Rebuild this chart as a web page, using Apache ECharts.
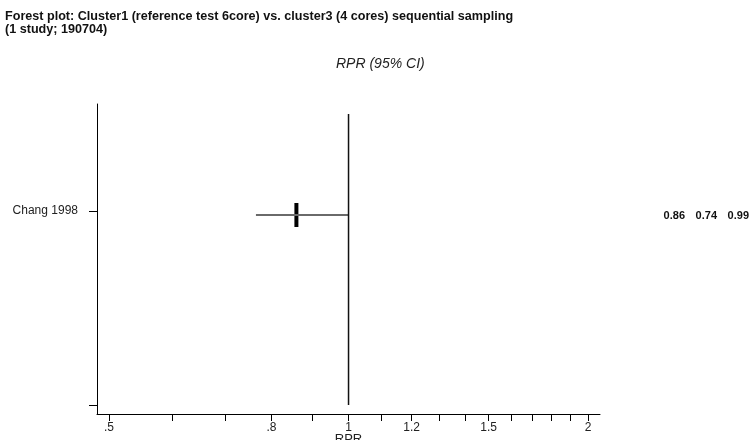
<!DOCTYPE html>
<html>
<head>
<meta charset="utf-8">
<script src="https://cdn.jsdelivr.net/npm/echarts@6/dist/echarts.min.js"></script>
<style>html,body{margin:0;padding:0;background:#fff}#c{width:750px;height:440px}</style>
</head>
<body>
<div id="c"></div>
<script>
// ---- data ----
var studies = ['Chang 1998'];
var estimates = [0.86];
var ciLow = [0.765];   // drawn position of lower CI
var ciHigh = [1.0];    // drawn position of upper CI
var estText = ['0.86'];
var lowText = ['0.74'];
var highText = ['0.99'];
var xTicks = [0.5, 0.6, 0.7, 0.8, 0.9, 1, 1.1, 1.2, 1.3, 1.4, 1.5, 1.6, 1.7, 1.8, 1.9, 2];
var xLabelVals = [0.5, 0.8, 1, 1.2, 1.5, 2];
var xLabelText = ['.5', '.8', '1', '1.2', '1.5', '2'];
var titleLines = ['Forest plot: Cluster1 (reference test 6core) vs. cluster3 (4 cores) sequential sampling', '(1 study; 190704)'];
var subTitle = 'RPR (95% CI)';
var xName = 'RPR';

var FONT = 'Liberation Sans, Arial, sans-serif';
var chart = echarts.init(document.getElementById('c'), null, {renderer: 'canvas'});

var rowY = studies.map(function (s, i) { return studies.length - i; });
var series = [];
studies.forEach(function (s, i) {
  series.push({
    type: 'line', silent: true, symbol: 'none', animation: false,
    lineStyle: {color: '#6a6a6a', width: 2},
    data: [[ciLow[i], rowY[i]], [ciHigh[i], rowY[i]]]
  });
});
series.push({
  type: 'scatter', animation: false, symbol: 'rect', symbolSize: [4, 24],
  itemStyle: {color: '#000', opacity: 1},
  data: estimates.map(function (v, i) { return [v, rowY[i]]; })
});
series.push({
  type: 'line', silent: true, symbol: 'none', animation: false,
  lineStyle: {color: '#111', width: 1.5},
  data: [[1, 0], [1, 1.532]]
});

var graphics = [];
titleLines.forEach(function (t, i) {
  graphics.push({type: 'text', left: 5, top: 10 + i * 13,
    style: {text: t, font: 'bold 12.6px ' + FONT, fill: '#111'}});
});
graphics.push({type: 'text', left: 336, top: 57,
  style: {text: subTitle, font: 'italic 14px ' + FONT, fill: '#222'}});

var rightCols = [685, 717, 749];
studies.forEach(function (s, i) {
  [estText[i], lowText[i], highText[i]].forEach(function (t, j) {
    graphics.push({type: 'text', x: rightCols[j], y: 216,
      style: {text: t, font: 'bold 11px ' + FONT, fill: '#111', align: 'right', verticalAlign: 'middle'}});
  });
});

chart.setOption({
  animation: false,
  grid: {left: 97, right: 150, top: 104, bottom: 26, containLabel: false, outerBoundsMode: 'none'},
  xAxis: {
    type: 'log', logBase: Math.E, min: 0.483, max: 2.07,
    name: xName, nameLocation: 'middle', nameGap: 19, nameMoveOverlap: false,
    nameTextStyle: {fontFamily: FONT, fontSize: 13, color: '#222', verticalAlign: 'top'},
    axisLine: {show: true, onZero: false, lineStyle: {color: '#000', width: 1}},
    axisTick: {show: true, length: 7, customValues: xTicks, lineStyle: {color: '#000'}},
    axisLabel: {customValues: xLabelVals, margin: 8, fontFamily: FONT, fontSize: 12, color: '#222',
      formatter: function (v) {
        for (var k = 0; k < xLabelVals.length; k++) if (Math.abs(xLabelVals[k] - v) < 1e-6) return xLabelText[k];
        return '';
      }},
    splitLine: {show: false}
  },
  yAxis: {
    type: 'value', min: -0.047, max: 1.584,
    axisLine: {show: true, onZero: false, lineStyle: {color: '#000', width: 1}},
    axisTick: {show: true, length: 8, customValues: [0, 1.021], lineStyle: {color: '#000'}},
    axisLabel: {customValues: [1.021], margin: 19, fontFamily: FONT, fontSize: 12, color: '#222',
      formatter: function (v) { return Math.abs(v - 1.021) < 1e-6 ? studies[0] : ''; }},
    splitLine: {show: false}
  },
  graphic: graphics,
  series: series
});
</script>
</body>
</html>
